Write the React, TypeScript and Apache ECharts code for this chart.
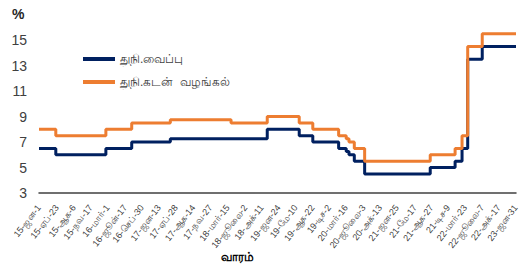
import React, { useEffect, useRef } from "react";
import * as echarts from "echarts";

// Policy-rate change dates and values (step series)
const changeDates = [
  "2015-01-01", "2015-04-15", "2016-02-19", "2016-07-28", "2017-03-24",
  "2018-04-04", "2018-11-14", "2019-05-31", "2019-08-23", "2020-01-30",
  "2020-03-17", "2020-04-03", "2020-05-06", "2020-07-09", "2021-08-19",
  "2022-01-20", "2022-03-04", "2022-04-08", "2022-07-07", "2023-02-01",
];
const depositRates = [
  6.5, 6.0, 6.5, 7.0, 7.25, 7.25, 8.0, 7.5, 7.0, 6.5,
  6.25, 6.0, 5.5, 4.5, 5.0, 5.5, 6.5, 13.5, 14.5, 14.5,
];
const lendingRates = [
  8.0, 7.5, 8.0, 8.5, 8.75, 8.5, 9.0, 8.5, 8.0, 7.5,
  7.25, 7.0, 6.5, 5.5, 6.0, 6.5, 7.5, 14.5, 15.5, 15.5,
];

const seriesNames = ["துநி.வைப்பு", "துநி.கடன்  வழங்கல்"];
const xAxisTitle = "வாரம்";

const tickDates = [
  "2015-01-01", "2015-04-23", "2015-08-06", "2015-11-17", "2016-03-01",
  "2016-06-17", "2016-09-30", "2017-01-13", "2017-04-28", "2017-08-14",
  "2017-11-27", "2018-03-15", "2018-07-02", "2018-10-11", "2019-01-24",
  "2019-05-10", "2019-08-22", "2019-12-02", "2020-03-16", "2020-07-03",
  "2020-10-13", "2021-01-25", "2021-05-17", "2021-08-27", "2021-12-09",
  "2022-03-23", "2022-07-07", "2022-10-17", "2023-01-31",
];
const tickLabels = [
  "15-ஜன-1", "15-ஏப்-23", "15-ஆக-6", "15-நவ-17", "16-மார்-1",
  "16-ஜூன்-17", "16-செப்-30", "17-ஜன-13", "17-ஏப்-28", "17-ஆக-14",
  "17-நவ-27", "18-மார்-15", "18-ஜூலை-2", "18-அக்-11", "19-ஜன-24",
  "19-மே-10", "19-ஆக-22", "19-டிச-2", "20-மார்-16", "20-ஜூலை-3",
  "20-அக்-13", "21-ஜன-25", "21-மே-17", "21-ஆக-27", "21-டிச-9",
  "22-மார்-23", "22-ஜூலை-7", "22-அக்-17", "23-ஜன-31",
];

const yTicks = { min: 3, max: 15, interval: 2 };

const DAY = 86400000;
const ORIGIN = Date.UTC(2015, 0, 1);
// days since 2015-01-01
const dayNum = (d: string) => {
  const [y, m, dd] = d.split("-").map(Number);
  return Math.round((Date.UTC(y, m - 1, dd) - ORIGIN) / DAY);
};

export default function App() {
  const ref = useRef<HTMLDivElement>(null);
  useEffect(() => {
    if (!ref.current) return;
    const chart = echarts.init(ref.current, null, { renderer: "svg" });
    const tickDays = tickDates.map(dayNum);
    const labelMap: Record<number, string> = {};
    tickDays.forEach((t, i) => (labelMap[t] = tickLabels[i]));
    chart.setOption({
      animation: false,
      grid: { left: 39, right: 3, top: 40, bottom: 76, containLabel: false, outerBoundsMode: "none" },
      legend: {
        orient: "vertical",
        left: 78,
        top: 48,
        itemWidth: 32,
        itemHeight: 4,
        itemGap: 11,
        icon: "rect",
        textStyle: { fontSize: 12, color: "#404040" },
        data: seriesNames,
      },
      graphic: [
        {
          type: "text",
          left: 12,
          top: 7,
          style: { text: "%", fontSize: 14, fontWeight: "bold", fill: "#262626" },
        },
        {
          type: "text",
          x: 237,
          y: 257,
          style: {
            text: xAxisTitle,
            fontSize: 12,
            fontWeight: "bold",
            fill: "#000",
            align: "center",
            verticalAlign: "middle",
          },
        },
      ],
      xAxis: {
        type: "value",
        min: dayNum("2015-01-01"),
        max: dayNum("2023-02-01"),
        axisLine: { lineStyle: { color: "#404040", width: 1.5 } },
        axisTick: { show: false },
        splitLine: { show: false },
        axisLabel: {
          customValues: tickDays,
          rotate: 52,
          fontSize: 9,
          color: "#404040",
          margin: 13,
          showMinLabel: true,
          showMaxLabel: true,
          formatter: (v: number) => labelMap[v] ?? "",
        },
      },
      yAxis: {
        type: "value",
        min: yTicks.min,
        max: yTicks.max,
        interval: yTicks.interval,
        axisLine: { show: false },
        axisTick: { show: false },
        splitLine: { show: false },
        axisLabel: { fontSize: 14, color: "#404040", margin: 12 },
      },
      series: [
        {
          name: seriesNames[0],
          type: "line",
          step: "end",
          clip: false,
          showSymbol: false,
          symbol: "none",
          lineStyle: { color: "#002060", width: 3 },
          itemStyle: { color: "#002060" },
          data: changeDates.map((d, i) => [dayNum(d), depositRates[i]]),
        },
        {
          name: seriesNames[1],
          type: "line",
          step: "end",
          clip: false,
          showSymbol: false,
          symbol: "none",
          lineStyle: { color: "#ED7D31", width: 3 },
          itemStyle: { color: "#ED7D31" },
          data: changeDates.map((d, i) => [dayNum(d), lendingRates[i]]),
        },
      ],
    });
    return () => chart.dispose();
  }, []);
  return <div ref={ref} style={{ width: 519, height: 269, position: "absolute", left: 0, top: 0 }} />;
}
